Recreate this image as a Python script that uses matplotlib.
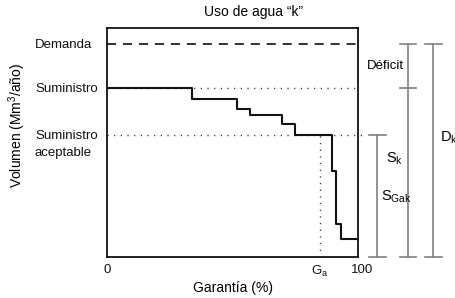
import matplotlib
matplotlib.use("Agg")
import matplotlib.pyplot as plt

plt.rcParams['font.family'] = ['Liberation Sans', 'DejaVu Sans']
plt.rcParams['lines.scale_dashes'] = False

# Data
demanda = 93.0
suministro = 73.8
aceptable = 53.3
ga = 84.9
step_x = [0, 34.0, 51.8, 57.0, 69.6, 75.0, 89.5, 91.1, 93.1, 100]
step_y = [73.8, 68.9, 64.8, 62.0, 57.9, 53.3, 37.7, 14.4, 7.7, 7.7]
xtick_pos = [0, ga, 100]
xtick_labels = ['0', r'$\mathregular{G_a}$', '100']
level_labels = ['Demanda', 'Suministro', 'Suministro\naceptable']

W, H = 455, 298
fig = plt.figure(figsize=(W / 100, H / 100), dpi=100)
ax = fig.add_axes([107 / W, (H - 257) / H, 251 / W, 229 / H])
ax.set_xlim(0, 100)
ax.set_ylim(0, 100)

# Demand dashed line
ax.plot([0, 100], [demanda, demanda], color='#222222', lw=1.3, dashes=(6.5, 5))
# Dotted reference lines
ax.plot([0, 100], [suministro, suministro], color='#222222', lw=1.0, dashes=(0.8, 4.0))
ax.plot([0, 101.5], [aceptable, aceptable], color='#222222', lw=1.0, dashes=(0.8, 4.0), clip_on=False)
ax.plot([ga, ga], [0, aceptable], color='#222222', lw=1.0, dashes=(0.8, 4.0))
# Step curve
ax.step(step_x, step_y, where='post', color='#111111', lw=1.5)

for s in ax.spines.values():
    s.set_linewidth(1.3)
    s.set_color('#111111')

ax.set_xticks([])
ax.set_yticks([])
# x tick labels
xoff = [0, 0, 1.5]
for xp, lbl, dx in zip(xtick_pos, xtick_labels, xoff):
    ax.text(xp + dx, -3.0, lbl, ha='center', va='top', fontsize=9.5, color='#111111')

# level labels
for lbl, yv in zip(level_labels, [demanda, suministro, aceptable]):
    for i, line in enumerate(lbl.split('\n')):
        ax.text(-28.7, yv - 0.6 - i * 7.1, line, ha='left', va='center', fontsize=9.5,
                color='#111111')

ax.set_xlabel('Garantía (%)', fontsize=10, labelpad=17)
fig.text(254 / W, 1 - 12 / H, 'Uso de agua “k”', ha='center', va='center', fontsize=10)
fig.text(17 / W, 1 - 125 / H, r'Volumen (Mm$^{\mathregular{3}}$/año)', rotation=90,
         ha='center', va='center', fontsize=10)

# Brackets
gray = '#808080'
def bracket(x, y0, y1, mids=()):
    ax.plot([x, x], [y0, y1], color=gray, lw=1.2, clip_on=False)
    for yy in (y0, y1) + tuple(mids):
        ax.plot([x - 3.3, x + 3.3], [yy, yy], color=gray, lw=1.2, clip_on=False)

bracket(107.7, 0, aceptable)
bracket(120.0, 0, demanda, mids=(suministro,))
bracket(130.0, 0, demanda)

ax.text(118.3, (demanda + suministro) / 2, 'Déficit', ha='right', va='center', fontsize=9.5)
ax.text(114.5, 43.0, r'$\mathregular{S_k}$', ha='center', va='center', fontsize=10.5)
ax.text(115.3, 26.5, r'$\mathregular{S_{Gak}}$', ha='center', va='center', fontsize=10.5)
ax.text(132.5, 52.0, r'$\mathregular{D_k}$', ha='left', va='center', fontsize=10.5)

fig.savefig('out.png', dpi=100)
